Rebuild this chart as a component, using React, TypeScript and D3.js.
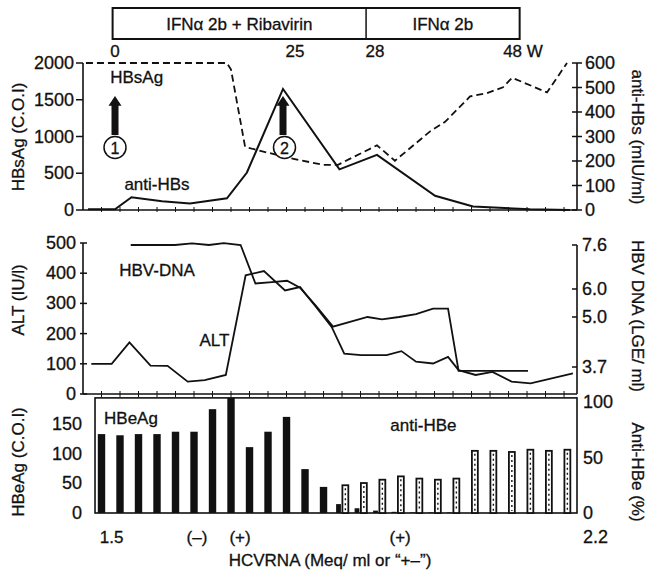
import * as d3 from "d3";
import { useEffect, useRef } from "react";

// shared x axis: one tick per visit, the bars sit on the visits
const visits = d3.range(0, 26);

// top panel: HBsAg (dashed, left axis) and anti-HBs (solid, right axis)
const hbsagX = [-0.84, 6.78, 7.0, 7.76, 8.19, 10.19, 11.97, 12.78, 14.89, 15.86, 17.76, 18.57, 19.92, 20.84, 21.7, 22.19, 24.08, 25.16];
const hbsagVal = [2000, 2000, 1910, 860, 830, 705, 615, 615, 880, 670, 1070, 1200, 1545, 1590, 1670, 1800, 1600, 2000];
const antiHbsX = [-0.73, 0.73, 1.62, 3.27, 4.78, 6.78, 7.86, 9.81, 12.86, 14.89, 18.03, 20.08, 23.16, 25.32];
const antiHbsVal = [3, 3, 52, 36, 27, 48, 153, 494, 166, 225, 58, 14, 3, 0];
const hbsTicks = [0, 500, 1000, 1500, 2000];
const antiHbsTicks = [0, 100, 200, 300, 400, 500, 600];

// treatment bar + week labels
const treatments = ["IFN\u03b1 2b + Ribavirin", "IFN\u03b1 2b"];
const treatmentEdges = [0.6, 14.3, 22.6];
const weekLabels = ["0", "25", "28", "48 W"];
const weekPos = [0.73, 10.46, 14.78, 22.78];
const arrowPos = [0.73, 9.81];

// middle panel: ALT (left) and HBV DNA (right)
const altX = [-0.55, 0.55, 1.51, 2.65, 3.57, 4.66, 5.58, 6.72, 7.79, 8.78, 9.92, 10.73, 11.52, 12.44, 13.12, 14.03, 15.41, 16.21, 17.0, 17.92, 18.73, 19.3, 20.22, 21.13, 22.16, 23.19, 25.48];
const altVal = [100, 100, 171, 94, 93, 41, 46, 63, 393, 407, 343, 354, 294, 222, 134, 129, 129, 142, 107, 101, 123, 79, 63, 73, 41, 35, 68];
const hbvX = [1.58, 3.97, 4.89, 5.81, 6.61, 7.52, 8.32, 9.22, 10.03, 10.73, 11.59, 12.51, 14.38, 15.16, 16.08, 17.0, 17.92, 18.73, 19.3, 23.05];
const hbvVal = [7.6, 7.6, 7.66, 7.6, 7.67, 7.6, 6.2, 6.25, 6.3, 6.05, 5.4, 4.75, 5.0, 4.94, 5.0, 5.1, 5.3, 5.3, 3.6, 3.6];
const altTicks = [0, 100, 200, 300, 400, 500];
const hbvTicks = [3.7, 5.0, 6.0, 7.6];

// bottom panel: HBeAg (black bars) and anti-HBe (hatched bars)
const hbeagVal = [133, 131, 133, 133, 137, 137, 175, 194, 111, 137, 162, 74, 44, 15, 8, 4, 2, 1, 1, 1, 0, 0, 0, 0, 0, 0];
const antiHbeSlots = d3.range(13, 26);
const antiHbeVal = [25, 27, 30, 33, 31, 30, 31, 56, 56, 55, 57, 56, 57];
const hbeagTicks = [0, 50, 100, 150];
const antiHbeTicks = [0, 50, 100];
const hcvLabels = ["1.5", "(\u2013)", "(+)", "(+)"];
const hcvPos = [0.55, 5.16, 7.49, 16.14];

export default function App() {
  const ref = useRef<SVGSVGElement>(null);

  useEffect(() => {
    document.body.style.margin = "0";
    const width = 649;
    const height = 575;
    const font = "'Liberation Sans', Arial, Helvetica, sans-serif";

    const svg = d3.select(ref.current)
      .attr("width", width)
      .attr("height", height)
      .style("font-family", font)
      .style("background", "#fff");
    svg.selectAll("*").remove();

    const x = d3.scaleLinear().domain([-1, 25.7]).range([83, 577]);
    const xL = x(-1), xR = x(25.7);

    // --- top panel scales ---
    const yHbs = d3.scaleLinear().domain([0, 2000]).range([210, 63]);
    const yAnti = d3.scaleLinear().domain([0, 600]).range([210, 63]);
    // --- middle ---
    const yAlt = d3.scaleLinear().domain([0, 500]).range([394, 243]);
    const yHbv = d3.scaleLinear().domain([3.7, 5.0, 6.0, 7.6]).range([367, 317, 289, 245]);
    // --- bottom ---
    const yHbe = d3.scaleLinear().domain([0, 150]).range([513, 424]);
    const yPct = d3.scaleLinear().domain([0, 100]).range([513, 402]);

    const ink = "#111";
    const txt = (s: string, tx: number, ty: number, anchor = "middle", size = 17) =>
      svg.append("text").attr("x", tx).attr("y", ty).attr("text-anchor", anchor)
        .attr("font-size", size).attr("fill", ink)
        .attr("stroke", ink).attr("stroke-width", 0.3).text(s);
    const vtitle = (s: string, cx: number, cy: number, rot: number) =>
      svg.append("text").attr("transform", `translate(${cx},${cy}) rotate(${rot})`)
        .attr("text-anchor", "middle").attr("dominant-baseline", "middle")
        .attr("font-size", 17).attr("fill", ink)
        .attr("stroke", ink).attr("stroke-width", 0.3).text(s);

    // treatment box
    const box = svg.append("g");
    box.append("rect")
      .attr("x", x(treatmentEdges[0])).attr("y", 8)
      .attr("width", x(treatmentEdges[2]) - x(treatmentEdges[0])).attr("height", 31)
      .attr("fill", "none").attr("stroke", ink).attr("stroke-width", 2);
    box.append("line")
      .attr("x1", x(treatmentEdges[1])).attr("x2", x(treatmentEdges[1]))
      .attr("y1", 8).attr("y2", 39).attr("stroke", ink).attr("stroke-width", 1.5);
    treatments.forEach((t, i) =>
      txt(t, (x(treatmentEdges[i]) + x(treatmentEdges[i + 1])) / 2, 30));
    weekLabels.forEach((w, i) => txt(w, x(weekPos[i]), 57));

    // ---------- top panel ----------
    const top = svg.append("g").attr("stroke", ink).attr("fill", "none");
    top.append("line").attr("x1", xL).attr("x2", xL).attr("y1", yHbs(2000)).attr("y2", yHbs(0)).attr("stroke-width", 1.6);
    top.append("line").attr("x1", xR).attr("x2", xR).attr("y1", yAnti(600)).attr("y2", yAnti(0)).attr("stroke-width", 1.6);
    top.append("line").attr("x1", xL).attr("x2", xR).attr("y1", yHbs(0)).attr("y2", yHbs(0)).attr("stroke-width", 1.6);
    hbsTicks.forEach(t => {
      top.append("line").attr("x1", xL - 7).attr("x2", xL).attr("y1", yHbs(t)).attr("y2", yHbs(t)).attr("stroke-width", 1.5);
      txt(String(t), xL - 9, yHbs(t) + 6, "end", 18);
    });
    antiHbsTicks.forEach(t => {
      top.append("line").attr("x1", xR - 5).attr("x2", xR + 5).attr("y1", yAnti(t)).attr("y2", yAnti(t)).attr("stroke-width", 1.5);
      txt(String(t), xR + 8, yAnti(t) + 6, "start", 18);
    });
    visits.forEach(v => top.append("line").attr("x1", x(v)).attr("x2", x(v))
      .attr("y1", yHbs(0) - 3).attr("y2", yHbs(0) + 2).attr("stroke-width", 1));

    const hbsLine = d3.line<number>().x((_, i) => x(hbsagX[i])).y(d => yHbs(d));
    top.append("path").attr("d", hbsLine(hbsagVal))
      .attr("stroke-width", 1.8).attr("stroke-dasharray", "7,4");
    const antiLine = d3.line<number>().x((_, i) => x(antiHbsX[i])).y(d => yAnti(d));
    top.append("path").attr("d", antiLine(antiHbsVal)).attr("stroke-width", 2);

    txt("HBsAg", x(1.9), 83);
    txt("anti-HBs", x(3.0), 190);

    // arrows with numbered circles
    arrowPos.forEach((p, i) => {
      const ax = x(p);
      const g = svg.append("g");
      g.append("rect").attr("x", ax - 3.5).attr("y", yHbs(1430)).attr("width", 7)
        .attr("height", yHbs(1020) - yHbs(1430)).attr("fill", ink);
      g.append("path")
        .attr("d", `M${ax - 6.5},${yHbs(1420)} L${ax},${yHbs(1550)} L${ax + 6.5},${yHbs(1420)} Z`)
        .attr("fill", ink);
      g.append("circle").attr("cx", ax + 1.5 * i).attr("cy", yHbs(850)).attr("r", 11)
        .attr("fill", "#fff").attr("stroke", ink).attr("stroke-width", 1.5);
      txt(String(i + 1), ax + 1.5 * i, yHbs(850) + 6, "middle", 16);
    });

    vtitle("HBsAg (C.O.I)", 20, 137, -90);
    vtitle("anti-HBs (mIU/ml)", 636, 137, 90);

    // ---------- middle panel ----------
    const mid = svg.append("g").attr("stroke", ink).attr("fill", "none");
    mid.append("line").attr("x1", xL).attr("x2", xL).attr("y1", yAlt(500)).attr("y2", yAlt(0)).attr("stroke-width", 1.6);
    mid.append("line").attr("x1", xR).attr("x2", xR).attr("y1", yHbv(7.6)).attr("y2", yAlt(0)).attr("stroke-width", 1.6);
    mid.append("line").attr("x1", xL).attr("x2", xR).attr("y1", yAlt(0)).attr("y2", yAlt(0)).attr("stroke-width", 1.6);
    altTicks.forEach(t => {
      mid.append("line").attr("x1", xL - 3).attr("x2", xL + 4).attr("y1", yAlt(t)).attr("y2", yAlt(t)).attr("stroke-width", 1.5);
      txt(String(t), xL - 7, yAlt(t) + 6, "end", 18);
    });
    hbvTicks.forEach(t => {
      mid.append("line").attr("x1", xR - 5).attr("x2", xR).attr("y1", yHbv(t)).attr("y2", yHbv(t)).attr("stroke-width", 1.5);
      txt(t.toFixed(1), xR + 5, yHbv(t) + 6, "start", 18);
    });
    visits.forEach(v => mid.append("line").attr("x1", x(v)).attr("x2", x(v))
      .attr("y1", yAlt(0) - 3).attr("y2", yAlt(0) + 3).attr("stroke-width", 1));

    const altLine = d3.line<number>().x((_, i) => x(altX[i])).y(d => yAlt(d));
    mid.append("path").attr("d", altLine(altVal)).attr("stroke-width", 1.8);
    const hbvLine = d3.line<number>().x((_, i) => x(hbvX[i])).y(d => yHbv(d));
    mid.append("path").attr("d", hbvLine(hbvVal)).attr("stroke-width", 1.8);

    txt("HBV-DNA", x(3.0), 276);
    txt("ALT", x(6.1), 346);

    vtitle("ALT (IU/l)", 20, 300, -90);
    vtitle("HBV DNA (LGE/ ml)", 636, 316, 90);

    // ---------- bottom panel ----------
    const bx0 = x(-0.35);
    const bot = svg.append("g");
    bot.append("rect").attr("x", bx0).attr("y", yHbe(194)).attr("width", xR - bx0)
      .attr("height", yHbe(0) - yHbe(194)).attr("fill", "none").attr("stroke", ink).attr("stroke-width", 1.6);

    const band = x(1) - x(0);
    bot.selectAll("rect.hbeag")
      .data(hbeagVal)
      .join("rect")
      .attr("class", "hbeag")
      .attr("x", (d, i) => i >= 13 ? x(i) - band * 0.32 : x(i) - band * 0.2)
      .attr("width", (d, i) => i >= 13 ? band * 0.26 : band * 0.4)
      .attr("y", d => yHbe(d))
      .attr("height", d => yHbe(0) - yHbe(d))
      .attr("fill", ink);

    const hatch = bot.selectAll("g.antihbe")
      .data(antiHbeVal)
      .join("g")
      .attr("class", "antihbe");
    hatch.append("rect")
      .attr("x", (d, i) => x(antiHbeSlots[i]) + band * 0.02)
      .attr("width", band * 0.32)
      .attr("y", d => yPct(d))
      .attr("height", d => yPct(0) - yPct(d))
      .attr("fill", "#fff").attr("stroke", ink).attr("stroke-width", 1.8);
    hatch.append("line")
      .attr("x1", (d, i) => x(antiHbeSlots[i]) + band * 0.18)
      .attr("x2", (d, i) => x(antiHbeSlots[i]) + band * 0.18)
      .attr("y1", d => yPct(d) + 3)
      .attr("y2", yPct(0) - 2)
      .attr("stroke", ink).attr("stroke-width", 1.4).attr("stroke-dasharray", "2,3");

    hbeagTicks.forEach(t => txt(String(t), bx0 - 13, yHbe(t) + 6, "end", 18));
    antiHbeTicks.forEach(t => txt(String(t), xR + 6, yPct(t) + 6, "start", 18));

    txt("HBeAg", bx0 + 9, 424, "start");
    txt("anti-HBe", x(17.4), 431);

    hcvLabels.forEach((h, i) => txt(h, x(hcvPos[i]), 543));
    txt("2.2", xR + 6, 543, "start", 18);
    txt("HCVRNA (Meq/ ml or \u201c+\u2013\u201d)", 330, 566);

    vtitle("HBeAg (C.O.I)", 20, 462, -90);
    vtitle("Anti-HBe (%)", 636, 472, 90);
  }, []);

  return <svg ref={ref}></svg>;
}
